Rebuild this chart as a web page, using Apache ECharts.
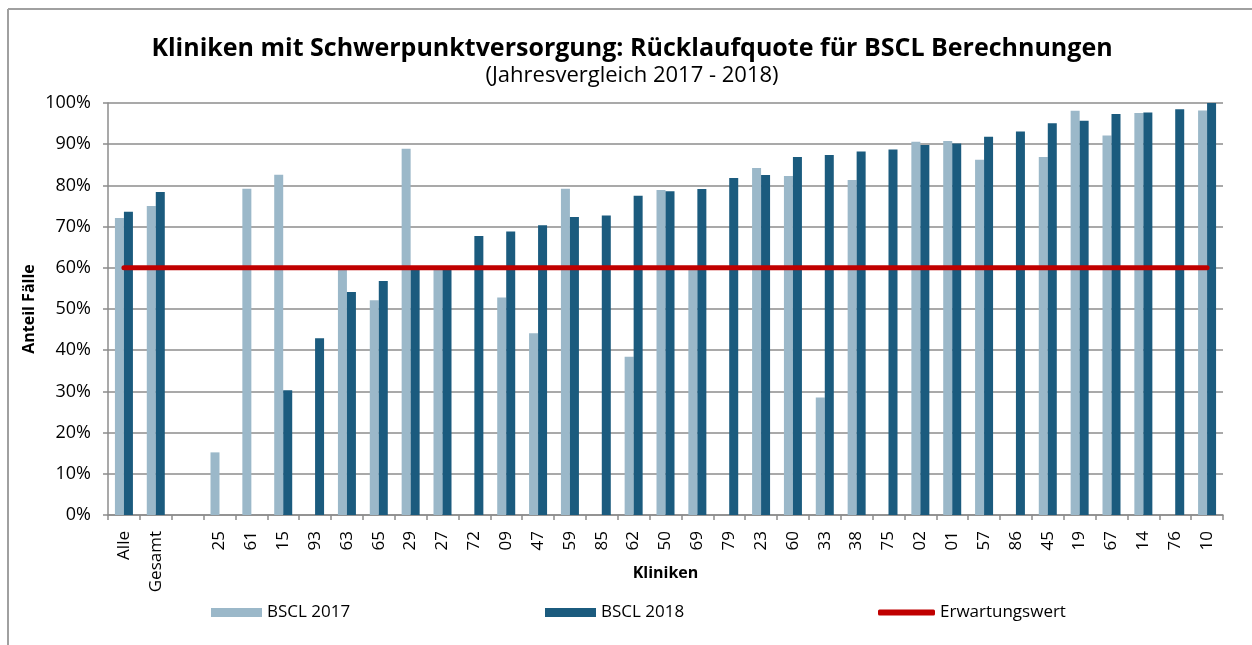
<!DOCTYPE html>
<html>
<head>
<meta charset="utf-8">
<script src="https://cdn.jsdelivr.net/npm/echarts@6/dist/echarts.min.js"></script>
<style>
html,body{margin:0;padding:0;background:#fff;}
#chart{width:1252px;height:645px;}
</style>
</head>
<body>
<div id="chart"></div>
<script>
const categories = ['Alle','Gesamt','','25','61','15','93','63','65','29','27','72','09','47','59','85','62','50','69','79','23','60','33','38','75','02','01','57','86','45','19','67','14','76','10'];
const bscl2017 = [72.1, 75.0, null, 15.2, 79.2, 82.6, null, 59.6, 52.1, 88.9, 59.6, null, 52.8, 44.1, 79.2, null, 38.4, 78.9, 59.6, null, 84.2, 82.3, 28.5, 81.3, null, 90.6, 90.8, 86.2, null, 86.9, 98.1, 92.1, 97.6, null, 98.2];
const bscl2018 = [73.6, 78.4, null, null, null, 30.3, 42.9, 54.1, 56.8, 59.6, 59.8, 67.7, 68.8, 70.3, 72.3, 72.7, 77.5, 78.6, 79.1, 81.8, 82.5, 86.9, 87.4, 88.2, 88.7, 89.8, 90.2, 91.8, 93.1, 95.1, 95.7, 97.3, 97.7, 98.5, 100.0];
const erwartungswert = [60,60,60,60,60,60,60,60,60,60,60,60,60,60,60,60,60,60,60,60,60,60,60,60,60,60,60,60,60,60,60,60,60,60,60];

const FONT = "'Open Sans', sans-serif";
const chart = echarts.init(document.getElementById('chart'));
chart.setOption({
  animation: false,
  backgroundColor: '#ffffff',
  textStyle: { fontFamily: FONT, color: '#000' },
  graphic: [
    { type: 'line', shape: { x1: 8, y1: 9, x2: 1252, y2: 9 }, style: { stroke: '#a0a0a0', lineWidth: 2 } },
    { type: 'line', shape: { x1: 8, y1: 9, x2: 8, y2: 645 }, style: { stroke: '#a0a0a0', lineWidth: 2 } }
  ],
  title: {
    text: 'Kliniken mit Schwerpunktversorgung: Rücklaufquote für BSCL Berechnungen',
    subtext: '(Jahresvergleich 2017 - 2018)',
    left: 632, textAlign: 'center', top: 36, padding: 0, itemGap: 4,
    textStyle: { fontFamily: FONT, fontSize: 25, fontWeight: 'bold', color: '#000' },
    subtextStyle: { fontFamily: FONT, fontSize: 22, color: '#000' }
  },
  legend: [
    { data: ['BSCL 2017'], left: 211, top: 604, padding: 0, itemWidth: 51, itemHeight: 9, icon: 'rect',
      textStyle: { fontFamily: FONT, fontSize: 17, color: '#000' } },
    { data: ['BSCL 2018'], left: 545, top: 604, padding: 0, itemWidth: 51, itemHeight: 9, icon: 'rect',
      textStyle: { fontFamily: FONT, fontSize: 17, color: '#000' } },
    { data: [{ name: 'Erwartungswert', icon: 'roundRect' }], left: 878, top: 604, padding: 0, itemWidth: 57, itemHeight: 6,
      textStyle: { fontFamily: FONT, fontSize: 17, color: '#000' } }
  ],
  grid: { left: 108, right: 29, top: 103, bottom: 130, containLabel: false },
  xAxis: {
    type: 'category', data: categories, boundaryGap: true,
    name: 'Kliniken', nameLocation: 'middle', nameGap: 50, nameMoveOverlap: false,
    nameTextStyle: { fontFamily: FONT, fontSize: 16, fontWeight: 'bold', color: '#000' },
    axisLine: { lineStyle: { color: '#8c8c8c', width: 1.5 } },
    axisTick: { show: true, length: 5, interval: 0, lineStyle: { color: '#8c8c8c', width: 1.5 } },
    axisLabel: { interval: 0, rotate: 90, margin: 16, fontSize: 17, color: '#000', fontFamily: FONT },
    splitLine: { show: false }
  },
  yAxis: {
    type: 'value', min: 0, max: 100, interval: 10,
    name: 'Anteil Fälle', nameLocation: 'middle', nameGap: 71, nameRotate: 90, nameMoveOverlap: false,
    nameTextStyle: { fontFamily: FONT, fontSize: 16, fontWeight: 'bold', color: '#000' },
    axisLine: { show: true, lineStyle: { color: '#8c8c8c', width: 1.5 } },
    axisTick: { show: true, length: 5, lineStyle: { color: '#8c8c8c', width: 1.5 } },
    axisLabel: { formatter: '{value}%', margin: 17, fontSize: 18, color: '#000', fontFamily: FONT },
    splitLine: { show: true, lineStyle: { color: '#8c8c8c', width: 1.5 } }
  },
  series: [
    { name: 'BSCL 2017', type: 'bar', data: bscl2017, barWidth: 9, barGap: '0%',
      itemStyle: { color: '#9bb8c9' } },
    { name: 'BSCL 2018', type: 'bar', data: bscl2018, barWidth: 9, barGap: '0%',
      itemStyle: { color: '#1b5b7e' } },
    { name: 'Erwartungswert', type: 'line', data: erwartungswert, symbol: 'none', z: 5,
      lineStyle: { color: '#c00000', width: 5, cap: 'round' }, itemStyle: { color: '#c00000' } }
  ]
});
</script>
</body>
</html>
